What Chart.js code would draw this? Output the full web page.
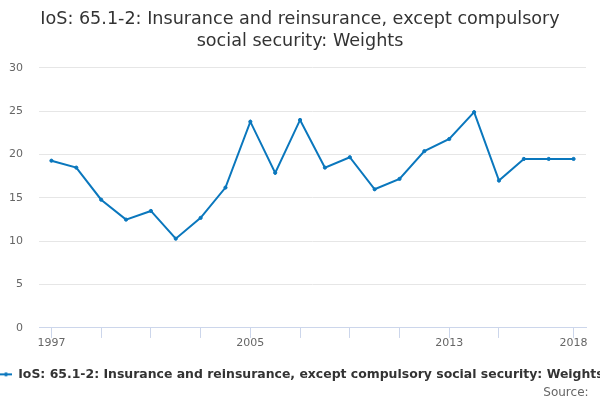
<!DOCTYPE html>
<html>
<head>
<meta charset="utf-8">
<script src="https://cdn.jsdelivr.net/npm/chart.js@4.4.1/dist/chart.umd.min.js"></script>
<style>
  html, body { margin: 0; padding: 0; background: #fff; }
  #wrap { width: 600px; height: 400px; }
</style>
</head>
<body>
<div id="wrap"><canvas id="mycanvas"></canvas></div>
<script>
var years = ['1997','1998','1999','2000','2001','2002','2003','2004','2005','2006','2007',
             '2008','2009','2010','2011','2012','2013','2014','2015','2016','2017','2018'];
var weights = [19.3, 18.5, 14.8, 12.5, 13.5, 10.3, 12.7, 16.2, 23.8, 17.9, 24.0,
               18.5, 19.7, 16.0, 17.2, 20.4, 21.8, 24.9, 17.0, 19.5, 19.5, 19.5];
var shownLabels = ['1997', '2005', '2013', '2018'];
var tickYears = ['1997','1999','2001','2003','2005','2007','2009','2011','2013','2015','2018'];

var seriesName = 'IoS: 65.1-2: Insurance and reinsurance, except compulsory social security: Weights';
var lineColor = '#0a77bd';

// legend symbol: short line with a dot in the middle
var legendIcon = document.createElement('canvas');
legendIcon.width = 12;
legendIcon.height = 6;
var ic = legendIcon.getContext('2d');
ic.strokeStyle = lineColor;
ic.fillStyle = lineColor;
ic.lineWidth = 2;
ic.beginPath();
ic.moveTo(0, 3);
ic.lineTo(12, 3);
ic.stroke();
ic.beginPath();
ic.arc(6, 3, 2, 0, Math.PI * 2);
ic.fill();

var ctx = document.getElementById('mycanvas');
var lineChart = new Chart(ctx, {
	type: 'line',
	data: {
		labels: years,
		datasets: [{
			label: seriesName,
			data: weights,
			borderColor: lineColor,
			backgroundColor: lineColor,
			borderWidth: 2,
			pointRadius: 1.6,
			pointBorderWidth: 1,
			pointHoverRadius: 3,
			pointStyle: 'circle',
			tension: 0,
			fill: false
		}]
	},
	options: {
		responsive: true,
		maintainAspectRatio: false,
		animation: false,
		layout: { padding: 0 },
		plugins: {
			title: {
				display: true,
				text: ['IoS: 65.1-2: Insurance and reinsurance, except compulsory', 'social security: Weights'],
				color: '#333333',
				font: { family: 'DejaVu Sans', size: 17.6, weight: 'normal', lineHeight: 1.22 },
				padding: { top: 9, bottom: 16 }
			},
			subtitle: {
				display: true,
				position: 'bottom',
				align: 'end',
				text: 'Source:   ',
				color: '#666666',
				font: { family: 'DejaVu Sans', size: 12, weight: 'normal' },
				padding: { top: -5, bottom: 0 }
			},
			legend: {
				position: 'bottom',
				align: 'start',
				labels: {
					color: '#333333',
					font: { family: 'DejaVu Sans', size: 12.45, weight: 'bold' },
					usePointStyle: true,
					pointStyleWidth: 12,
					padding: 0,
					generateLabels: function(chart) {
						var items = Chart.defaults.plugins.legend.labels.generateLabels(chart);
						items.forEach(function(it) { it.pointStyle = legendIcon; });
						return items;
					}
				}
			},
			tooltip: { enabled: false }
		},
		scales: {
			x: {
				offset: true,
				border: { display: true, color: '#ccd6eb', width: 1 },
				grid: {
					drawOnChartArea: false,
					drawTicks: true,
					tickLength: 10,
					tickColor: function(c) {
						return tickYears.indexOf(years[c.index]) >= 0 ? '#ccd6eb' : 'rgba(0,0,0,0)';
					}
				},
				ticks: {
					autoSkip: false,
					maxRotation: 0,
					padding: -1,
					color: '#666666',
					font: { family: 'DejaVu Sans', size: 11 },
					callback: function(val, i) {
						var y = years[i];
						return shownLabels.indexOf(y) >= 0 ? y : '';
					}
				},
				afterFit: function(scale) {
					scale.height += 19;
				}
			},
			y: {
				min: 0,
				max: 30,
				border: { display: false },
				grid: { color: '#e6e6e6', drawTicks: false },
				ticks: {
					stepSize: 5,
					padding: 16,
					color: '#666666',
					font: { family: 'DejaVu Sans', size: 11 }
				},
				afterFit: function(scale) {
					scale.width = 39;
				}
			},
			// empty strip on the right so the plot stops short of the edge
			yRight: {
				position: 'right',
				border: { display: false },
				grid: { display: false },
				ticks: { display: false },
				afterFit: function(scale) {
					scale.width = 14;
				}
			}
		}
	}
});
</script>
</body>
</html>
